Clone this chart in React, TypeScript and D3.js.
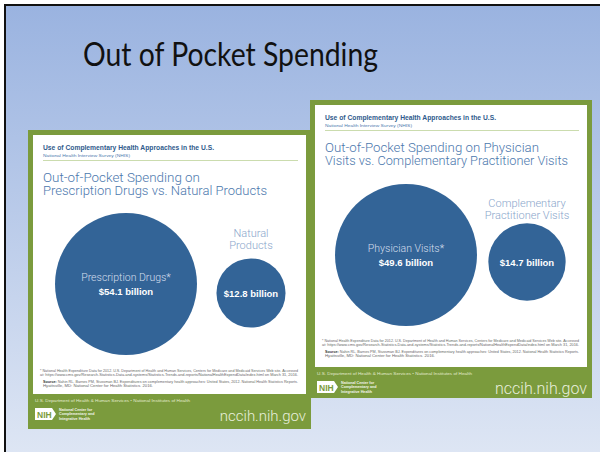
import * as d3 from 'd3';

// slide + card texts
const slideTitle = 'Out of Pocket Spending';
const headerText = 'Use of Complementary Health Approaches in the U.S.';
const surveyText = 'National Health Interview Survey (NHIS)';
const footnoteLines = [
	'* National Health Expenditure Data for 2012. U.S. Department of Health and Human Services, Centers for Medicare and Medicaid Services Web site. Accessed',
	'at: https://www.cms.gov/Research-Statistics-Data-and-systems/Statistics-Trends-and-reports/NationalHealthExpendData/index.html on March 31, 2016.',
];
const sourceLines = [
	'Nahin RL, Barnes PM, Stussman BJ. Expenditures on complementary health approaches: United States, 2012. National Health Statistics Reports.',
	'Hyattsville, MD: National Center for Health Statistics. 2016.',
];
const deptText = 'U.S. Department of Health & Human Services • National Institutes of Health';
const centerLines = ['National Center for', 'Complementary and', 'Integrative Health'];
const siteText = 'nccih.nih.gov';

// left card data
const leftTitle = ['Out-of-Pocket Spending on', 'Prescription Drugs vs. Natural Products'];
const leftCategories = ['Prescription Drugs*', 'Natural Products'];
const leftLabelLines = [['Prescription Drugs*'], ['Natural', 'Products']];
const leftValues = [54.1, 12.8];

// right card data
const rightTitle = ['Out-of-Pocket Spending on Physician', 'Visits vs. Complementary Practitioner Visits'];
const rightCategories = ['Physician Visits*', 'Complementary Practitioner Visits'];
const rightLabelLines = [['Physician Visits*'], ['Complementary', 'Practitioner Visits']];
const rightValues = [49.6, 14.7];

const GREEN = '#7b9b3d';
const BLUE = '#336497';
const TITLE_BLUE = '#4c78ad';
const LIGHT = "'Roboto', 'Liberation Sans', sans-serif";
const BOLD = "'Liberation Sans', Arial, sans-serif";

interface CardLayout {
	x: number;
	y: number;
	w: number;
	h: number;
	whiteH: number;
	headY: number;
	titleY: number;
	titleLens: number[];
	cx: [number, number];
	cy: number[];
	rMax: number;
	smallLabelY: number;
	noteY: number;
	siteSize: number;
}

const leftLayout: CardLayout = {
	x: 28, y: 130, w: 283, h: 299, whiteH: 259,
	headY: 150, titleY: 181.5, titleLens: [157, 224],
	cx: [126, 251], cy: [284, 293], rMax: 71,
	smallLabelY: 237, noteY: 372, siteSize: 15,
};

const rightLayout: CardLayout = {
	x: 310, y: 100, w: 282, h: 298, whiteH: 262,
	headY: 120, titleY: 151.5, titleLens: [214, 243],
	cx: [406, 527], cy: [255, 262], rMax: 71,
	smallLabelY: 207, noteY: 342, siteSize: 16,
};

const Card = ({
	L, title, categories, labelLines, values,
}: {
	L: CardLayout;
	title: string[];
	categories: string[];
	labelLines: string[][];
	values: number[];
}) => {
	const xScale = d3.scalePoint<string>().domain(categories).range(L.cx);
	const rScale = d3.scaleSqrt().domain([0, d3.max(values) as number]).range([0, L.rMax]);
	const ix = L.x + 15;
	const innerRight = L.x + L.w - 13;
	const footY = L.y + 5 + L.whiteH;

	return (
		<g>
			<rect x={L.x} y={L.y} width={L.w} height={L.h} fill={GREEN} />
			<rect x={L.x + 5} y={L.y + 5} width={L.w - 10} height={L.whiteH} fill="#ffffff" />

			{/* header */}
			<text x={ix} y={L.headY} fontFamily={BOLD} fontWeight="bold" fontSize={7} fill="#2f5a8c"
				textLength={171} lengthAdjust="spacingAndGlyphs">{headerText}</text>
			<text x={ix} y={L.headY + 6.5} fontFamily={BOLD} fontSize={4.3} fill="#4c78ad"
				textLength={87} lengthAdjust="spacingAndGlyphs">{surveyText}</text>
			<line x1={ix} x2={innerRight} y1={L.headY + 10.5} y2={L.headY + 10.5} stroke="#cbdcae" strokeWidth={1} />

			{title.map((t, i) => (
				<text key={t} x={ix} y={L.titleY + i * 13.8} fontFamily={LIGHT} fontWeight={300} fontSize={12.8}
					fill={TITLE_BLUE} textLength={L.titleLens[i]} lengthAdjust="spacingAndGlyphs">{t}</text>
			))}

			{/* circles */}
			{categories.map((c, i) => {
				const cx = xScale(c) as number;
				const cy = L.cy[i];
				const r = rScale(values[i]);
				const big = i === 0;
				return (
					<g key={c}>
						<circle cx={cx} cy={cy} r={r} fill={BLUE} />
						{big ? (
							<text x={cx} y={cy - 3} textAnchor="middle" fontFamily={LIGHT} fontWeight={300}
								fontSize={10.5} fill="#d3deec">{labelLines[i][0]}</text>
						) : (
							labelLines[i].map((ln, j) => (
								<text key={ln} x={cx} y={L.smallLabelY + j * 11.5} textAnchor="middle" fontFamily={LIGHT}
									fontWeight={300} fontSize={11} fill="#8aa6cb">{ln}</text>
							))
						)}
						<text x={cx} y={big ? cy + 10.5 : cy + 3.5} textAnchor="middle" fontFamily={BOLD}
							fontWeight="bold" fontSize={9.5} fill="#ffffff">{`$${values[i]} billion`}</text>
					</g>
				);
			})}

			{/* footnotes */}
			{footnoteLines.map((t, i) => (
				<text key={t} x={ix - 3} y={L.noteY + i * 4} fontFamily={BOLD} fontSize={3.2} fill="#666"
					textLength={innerRight - ix + 3} lengthAdjust="spacingAndGlyphs">{t}</text>
			))}
			{sourceLines.map((t, i) => (
				<text key={t} x={ix} y={L.noteY + 11 + i * 4} fontFamily={BOLD} fontSize={3.2} fill="#666"
					textLength={i === 0 ? innerRight - ix : 110} lengthAdjust="spacingAndGlyphs">
					{i === 0 && <tspan fontWeight="bold" fill="#333">Source: </tspan>}
					{t}
				</text>
			))}

			{/* footer */}
			<text x={L.x + 7} y={footY + 8} fontFamily={BOLD} fontSize={4.3} fill="#e3ebcf"
				textLength={155} lengthAdjust="spacingAndGlyphs">{deptText}</text>
			<path
				d={`M${L.x + 7},${footY + 14} h17 l4,6 l-4,6 h-17 z`}
				fill="#ffffff"
			/>
			<text x={L.x + 9} y={footY + 23.5} fontFamily={BOLD} fontWeight="bold" fontSize={8.5} fill={GREEN}>NIH</text>
			{centerLines.map((t, i) => (
				<text key={t} x={L.x + 31} y={footY + 17 + i * 4.4} fontFamily={BOLD} fontWeight="bold" fontSize={3.7}
					fill="#f2f6ea">{t}</text>
			))}
			<text x={L.x + L.w - 5} y={footY + 27} textAnchor="end" fontFamily={LIGHT} fontWeight={300}
				fontSize={L.siteSize} fill="#e8efdc">{siteText}</text>
		</g>
	);
};

export default function App() {
	return (
		<svg width={600} height={452} style={{ position: 'absolute', left: 0, top: 0 }}>
			<defs>
				<linearGradient id="slideBg" x1="0" y1="0" x2="0" y2="1">
					<stop offset="0%" stopColor="#9ab3e0" />
					<stop offset="100%" stopColor="#dee6f4" />
				</linearGradient>
			</defs>
			<rect x={0} y={0} width={600} height={452} fill="#ffffff" />
			<rect x={5} y={5} width={600} height={452} fill="url(#slideBg)" stroke="#111" strokeWidth={2} />
			<text x={83} y={66} fontFamily="'Lato', 'Open Sans', sans-serif" fontSize={33} fill="#111"
				textLength={295} lengthAdjust="spacingAndGlyphs">{slideTitle}</text>

			<Card L={rightLayout} title={rightTitle} categories={rightCategories}
				labelLines={rightLabelLines} values={rightValues} />
			<Card L={leftLayout} title={leftTitle} categories={leftCategories}
				labelLines={leftLabelLines} values={leftValues} />
		</svg>
	);
}
